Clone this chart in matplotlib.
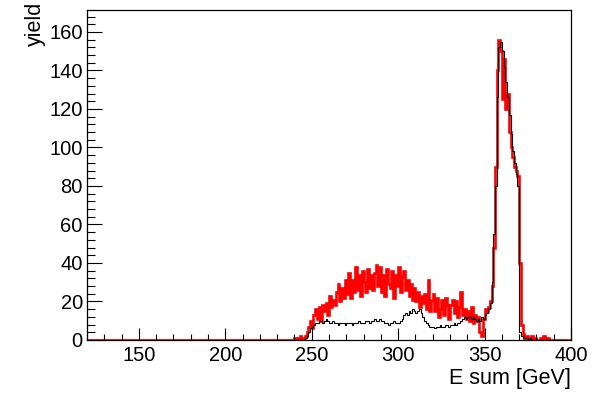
import numpy as np
import matplotlib.pyplot as plt
from matplotlib.ticker import MultipleLocator

plt.rcParams['font.family'] = ['Liberation Sans', 'DejaVu Sans']

# 1 GeV bins from 120 to 400, only 240-389 is filled, rest is empty
bin_edges = np.arange(120, 401, 1)

red_counts = [0] * 120 + [
    1, 0, 1, 2, 0, 1, 2,
    4, 7, 10, 6, 13, 16,
    11, 17, 10, 18, 15, 19, 13,
    23, 17, 21, 18, 25,
    29, 20, 27, 22, 31,
    24, 35, 22, 31, 25,
    38, 26, 34, 23, 36,
    30, 25, 37, 27, 34,
    26, 35, 39, 28, 38,
    25, 34, 23, 37, 29,
    27, 36, 22, 34, 28,
    38, 25, 33, 36, 26,
    31, 23, 29, 21, 27,
    20, 25, 17, 23, 19,
    24, 16, 31, 15, 21,
    24, 15, 22, 12, 16,
    21, 13, 22, 18, 11,
    18, 21, 14, 20, 12,
    17, 25, 13, 16, 11,
    15, 10, 17, 9, 13,
    10, 12, 4, 2, 11,
    16, 15, 17, 20, 28,
    48, 90, 140, 156, 150,
    125, 146, 120, 128, 108,
    100, 95, 90, 88, 85,
    40, 8, 3, 1, 2,
    0, 1, 2, 0, 1,
    0, 0, 1, 0, 2,
    0, 1, 0, 0, 0,
] + [0] * 10

black_counts = [0] * 120 + [
    0, 0, 0, 0, 0, 0,
    1, 2, 4, 6, 7, 8, 9,
    9, 10, 10, 9, 10, 11, 10,
    9, 9, 10, 9, 9, 8, 9, 9, 9, 8,
    9, 9, 9, 8, 9, 9, 9, 10, 9, 9,
    9, 10, 10, 9, 10, 10, 11, 10, 10, 11,
    10, 10, 9, 9, 8, 9, 9, 10, 9, 9,
    9, 10, 11, 13, 14, 13, 15, 14, 16, 15,
    14, 15, 16, 14, 12, 10, 9, 8, 7, 7,
    7, 6, 7, 7, 8, 7, 7, 8, 8, 7, 8, 8, 9, 8, 9, 9, 10,
    11, 12, 11, 12, 12, 11, 12, 11, 10, 11, 10, 12, 11, 13, 14, 16, 19,
    30, 55, 80, 126, 152, 155, 150, 142, 134, 126, 117, 107, 98, 92, 86, 80,
    4, 2, 1, 1, 1, 0, 1, 0, 0, 0,
    0, 0, 0, 0, 0, 0, 0, 0, 0, 0,
] + [0] * 10

fig = plt.figure(figsize=(5.93, 3.93), dpi=100)
ax = fig.add_axes([0.1467, 0.1349, 0.8163, 0.8397])

ax.stairs(red_counts, bin_edges, color='#ff0000', linewidth=1.9)
ax.stairs(black_counts, bin_edges, color='black', linewidth=0.8)

ax.set_xlim(120, 400)
ax.set_ylim(0, 171.4)

ax.xaxis.set_major_locator(MultipleLocator(50))
ax.xaxis.set_minor_locator(MultipleLocator(10))
ax.yaxis.set_major_locator(MultipleLocator(20))
ax.yaxis.set_minor_locator(MultipleLocator(4))
ax.tick_params(which='both', direction='in', top=False, right=False,
               labelsize=14.5, width=0.8)
ax.tick_params(axis='x', which='major', length=9, pad=4)
ax.tick_params(axis='x', which='minor', length=4.5)
ax.tick_params(axis='y', which='major', length=11, pad=3)
ax.tick_params(axis='y', which='minor', length=5.5)

for s in ax.spines.values():
    s.set_linewidth(0.9)

ax.set_xlabel("E sum [GeV]", fontsize=15.5, loc='right')
ax.xaxis.set_label_coords(1.0, -0.085)
ax.set_ylabel("yield", fontsize=15.5, loc='top')
ax.yaxis.set_label_coords(-0.085, 1.025)

fig.savefig("out.png", dpi=100)
